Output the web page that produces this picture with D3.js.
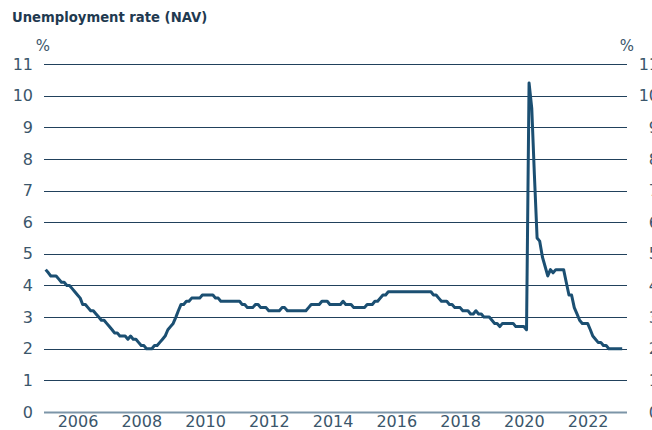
<!DOCTYPE html>
<html>
<head>
<meta charset="utf-8">
<script src="https://cdn.jsdelivr.net/npm/d3@7"></script>
<style>
  body { margin: 0; background: #fff; }
  svg text { font-family: "DejaVu Sans", sans-serif; }
</style>
</head>
<body>
<div id="chart"></div>
<script>
// Registered unemployment, monthly, from Jan 2005
const startYear = 2005;
const unemployment = [
  4.5, 4.4, 4.3, 4.3, 4.3, 4.2, 4.1, 4.1, 4.0, 4.0, 3.9, 3.8, // 2005
  3.7, 3.6, 3.4, 3.4, 3.3, 3.2, 3.2, 3.1, 3.0, 2.9, 2.9, 2.8, // 2006
  2.7, 2.6, 2.5, 2.5, 2.4, 2.4, 2.4, 2.3, 2.4, 2.3, 2.3, 2.2, // 2007
  2.1, 2.1, 2.0, 2.0, 2.0, 2.1, 2.1, 2.2, 2.3, 2.4, 2.6, 2.7, // 2008
  2.8, 3.0, 3.2, 3.4, 3.4, 3.5, 3.5, 3.6, 3.6, 3.6, 3.6, 3.7, // 2009
  3.7, 3.7, 3.7, 3.7, 3.6, 3.6, 3.5, 3.5, 3.5, 3.5, 3.5, 3.5, // 2010
  3.5, 3.5, 3.4, 3.4, 3.3, 3.3, 3.3, 3.4, 3.4, 3.3, 3.3, 3.3, // 2011
  3.2, 3.2, 3.2, 3.2, 3.2, 3.3, 3.3, 3.2, 3.2, 3.2, 3.2, 3.2, // 2012
  3.2, 3.2, 3.2, 3.3, 3.4, 3.4, 3.4, 3.4, 3.5, 3.5, 3.5, 3.4, // 2013
  3.4, 3.4, 3.4, 3.4, 3.5, 3.4, 3.4, 3.4, 3.3, 3.3, 3.3, 3.3, // 2014
  3.3, 3.4, 3.4, 3.4, 3.5, 3.5, 3.6, 3.7, 3.7, 3.8, 3.8, 3.8, // 2015
  3.8, 3.8, 3.8, 3.8, 3.8, 3.8, 3.8, 3.8, 3.8, 3.8, 3.8, 3.8, // 2016
  3.8, 3.8, 3.7, 3.7, 3.6, 3.5, 3.5, 3.5, 3.4, 3.4, 3.3, 3.3, // 2017
  3.3, 3.2, 3.2, 3.2, 3.1, 3.1, 3.2, 3.1, 3.1, 3.0, 3.0, 3.0, // 2018
  2.9, 2.8, 2.8, 2.7, 2.8, 2.8, 2.8, 2.8, 2.8, 2.7, 2.7, 2.7, // 2019
  2.7, 2.6, 10.4, 9.6, 7.5, 5.5, 5.4, 4.9, 4.6, 4.3, 4.5, 4.4, // 2020
  4.5, 4.5, 4.5, 4.5, 4.1, 3.7, 3.7, 3.3, 3.1, 2.9, 2.8, 2.8, // 2021
  2.8, 2.6, 2.4, 2.3, 2.2, 2.2, 2.1, 2.1, 2.0, 2.0, 2.0, 2.0, // 2022
  2.0, 2.0                                                    // 2023
];
const yTicks = [0, 1, 2, 3, 4, 5, 6, 7, 8, 9, 10, 11];
const xTickYears = [2006, 2008, 2010, 2012, 2014, 2016, 2018, 2020, 2022];
const title = "Unemployment rate (NAV)";

const width = 652, height = 430;
const plot = { left: 44, right: 627, top: 64, bottom: 412 };

const data = unemployment.map((v, i) => ({
  date: new Date(startYear, i, 1),
  value: v
}));

const svg = d3.select("#chart")
  .append("svg")
  .attr("width", width)
  .attr("height", height);

const x = d3.scaleTime()
  .domain([new Date(2004, 11, 13), new Date(2023, 2, 28)])
  .range([plot.left, plot.right]);

const y = d3.scaleLinear()
  .domain([0, 11])
  .range([plot.bottom, plot.top]);

// title
svg.append("text")
  .attr("x", 12)
  .attr("y", 22)
  .attr("font-size", 13.2)
  .attr("font-weight", 600)
  .attr("fill", "#1f3a50")
  .text(title);

// gridlines
svg.append("g")
  .selectAll("line")
  .data(yTicks)
  .join("line")
  .attr("x1", plot.left)
  .attr("x2", plot.right)
  .attr("y1", d => Math.round(y(d)) + 0.5)
  .attr("y2", d => Math.round(y(d)) + 0.5)
  .attr("stroke", d => d === 0 ? "#7c95a8" : "#21415c")
  .attr("stroke-width", d => d === 0 ? 2 : 1);

// left and right axes (labels only, right one runs off the edge like the original)
const leftAxis = d3.axisLeft(y).tickValues(yTicks).tickSize(0).tickPadding(0);
svg.append("g")
  .attr("transform", "translate(33,0)")
  .call(leftAxis)
  .call(g => g.select(".domain").remove())
  .selectAll("text")
  .attr("font-size", 16)
  .attr("fill", "#3b566b");

const rightAxis = d3.axisLeft(y).tickValues(yTicks).tickSize(0).tickPadding(0);
svg.append("g")
  .attr("transform", "translate(659,0)")
  .call(rightAxis)
  .call(g => g.select(".domain").remove())
  .selectAll("text")
  .attr("font-size", 16)
  .attr("fill", "#3b566b");

svg.append("text")
  .attr("x", 43).attr("y", 51)
  .attr("text-anchor", "middle")
  .attr("font-size", 15)
  .attr("fill", "#3b566b")
  .text("%");

svg.append("text")
  .attr("x", 627).attr("y", 51)
  .attr("text-anchor", "middle")
  .attr("font-size", 15)
  .attr("fill", "#3b566b")
  .text("%");

// x axis
const xAxis = d3.axisBottom(x)
  .tickValues(xTickYears.map(yr => new Date(yr, 0, 1)))
  .tickFormat(d3.timeFormat("%Y"))
  .tickSize(0)
  .tickPadding(0);

svg.append("g")
  .attr("transform", `translate(0,${plot.bottom + 4})`)
  .call(xAxis)
  .call(g => g.select(".domain").remove())
  .selectAll("text")
  .attr("font-size", 16)
  .attr("fill", "#3b566b");

// line
const line = d3.line()
  .x(d => x(d.date))
  .y(d => y(d.value));

svg.append("path")
  .datum(data)
  .attr("d", line)
  .attr("fill", "none")
  .attr("stroke", "#1b4f72")
  .attr("stroke-width", 3)
  .attr("stroke-linejoin", "round");
</script>
</body>
</html>
